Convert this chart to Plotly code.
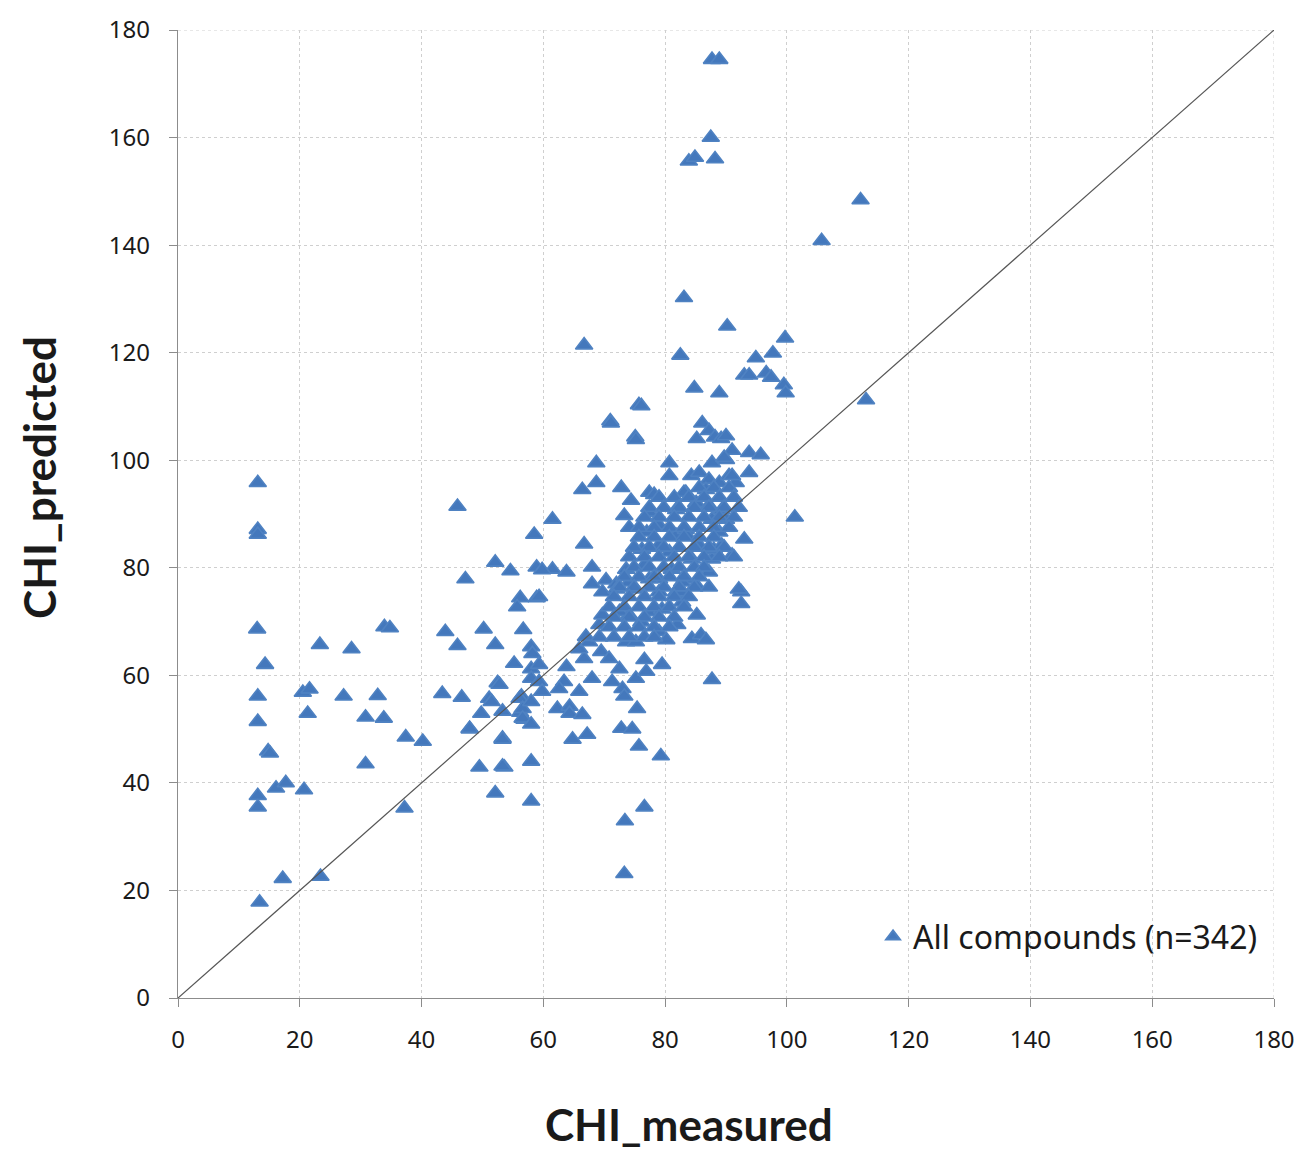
import plotly.graph_objects as go

# ---- data (CHI_measured, CHI_predicted) ----
high_outliers = [
    [87.7, 174.5], [88.9, 174.5], [87.5, 160.0], [83.9, 155.6], [84.9, 156.3], [88.2, 156.0],
    [112.1, 148.4], [105.7, 140.8], [83.1, 130.2], [90.2, 124.9], [99.7, 122.7], [82.5, 119.5],
    [94.9, 119.0], [66.7, 121.4], [97.7, 119.9], [93.0, 115.8], [93.8, 115.8], [96.6, 116.2],
    [97.4, 115.4], [84.8, 113.4], [88.9, 112.5], [99.5, 114.0], [99.8, 112.5], [113.0, 111.2],
    [71.0, 107.3], [75.7, 110.3], [75.1, 104.3], [86.1, 106.9], [87.2, 105.5], [85.2, 104.0],
    [88.2, 104.3], [89.2, 104.0], [90.0, 104.5], [93.8, 101.4], [95.7, 101.0], [101.3, 89.4],
]

left_group = [
    [13.1, 95.8], [13.1, 87.1], [13.1, 86.2], [45.9, 91.4], [13.0, 68.6], [14.3, 62.0],
    [13.1, 56.1], [13.1, 51.4], [14.8, 45.9], [15.1, 45.5], [13.1, 37.6], [13.1, 35.5],
    [16.1, 39.0], [17.7, 40.0], [13.4, 17.8], [17.2, 22.2], [23.4, 22.6], [20.5, 56.8],
    [21.6, 57.4], [21.3, 52.9], [20.7, 38.7], [23.3, 65.7], [28.5, 64.9], [27.2, 56.1],
    [30.8, 52.2], [32.8, 56.2], [33.8, 52.0], [30.8, 43.5], [33.9, 69.0], [34.8, 68.8],
    [37.4, 48.5], [40.2, 47.7], [37.2, 35.3], [43.9, 68.1], [45.9, 65.5], [43.4, 56.6],
    [46.6, 55.9], [47.2, 77.9], [47.9, 50.0], [49.8, 52.9], [50.2, 68.6], [49.5, 42.9],
    [52.1, 81.0], [52.1, 65.7], [52.5, 58.6], [51.1, 55.7], [52.1, 38.1], [53.3, 48.3],
    [53.6, 42.9], [54.6, 79.4], [55.2, 62.2], [56.2, 74.4], [55.7, 72.7], [56.7, 68.5],
    [56.4, 56.1], [56.2, 53.1], [56.9, 51.8], [58.9, 74.4], [58.9, 80.1], [58.5, 86.2],
    [52.8, 58.3], [51.5, 55.1], [56.1, 55.7], [56.6, 53.8], [58.0, 55.1], [56.6, 52.0],
    [58.0, 50.9], [53.3, 53.3], [47.9, 50.1], [53.3, 48.1], [53.3, 43.1], [58.0, 44.0],
    [58.0, 36.6],
]

middle_group = [
    [59.3, 74.6], [61.5, 89.0], [66.7, 84.4], [68.7, 99.5], [68.7, 95.8], [66.4, 94.5],
    [71.1, 106.9], [75.2, 103.8], [76.1, 110.1], [72.8, 94.9], [74.4, 92.5], [77.4, 94.0],
    [78.2, 93.6], [80.7, 99.5], [80.7, 97.1], [73.3, 89.7], [74.1, 87.5], [77.4, 90.3],
    [77.0, 86.6], [79.0, 87.9], [81.8, 90.8], [83.4, 94.0], [63.8, 79.2], [61.5, 79.7],
    [59.8, 79.6], [68.0, 80.1], [73.6, 79.7], [70.3, 77.7], [68.0, 77.0], [72.0, 77.0],
    [74.1, 77.3], [76.2, 83.4], [76.6, 80.5], [79.0, 84.2], [80.7, 82.9], [81.8, 86.0],
    [83.4, 87.1], [79.0, 77.9], [81.1, 79.7], [83.4, 77.9], [77.4, 77.9],
    [58.0, 65.3], [58.2, 64.0], [58.0, 61.2], [59.3, 62.0], [58.0, 59.4], [59.3, 58.8],
    [59.8, 57.0], [63.8, 61.6], [63.4, 58.8], [62.6, 57.5], [65.9, 57.0], [68.0, 59.4],
    [62.3, 53.8], [64.3, 54.2], [64.3, 52.9], [66.4, 52.7], [64.8, 48.1], [67.2, 49.0],
    [71.3, 58.8], [73.0, 57.5], [73.3, 56.1], [72.8, 50.1], [74.6, 50.0], [75.4, 53.8],
    [75.7, 46.8], [79.3, 45.0], [75.2, 59.4], [76.9, 60.7], [72.5, 61.2], [79.5, 62.0],
    [76.6, 62.9], [66.7, 63.1], [69.5, 64.4], [70.8, 63.1], [65.9, 64.9], [67.5, 66.2],
    [73.6, 66.2], [75.2, 66.2], [79.0, 68.1], [82.0, 69.4], [80.2, 66.6], [76.1, 69.9],
    [74.1, 71.2], [69.2, 69.4], [69.7, 71.2], [72.5, 71.8], [77.7, 71.8], [79.5, 72.3],
    [67.0, 67.2], [69.7, 75.5], [72.0, 76.0], [75.2, 76.0], [79.0, 75.5], [81.8, 75.5],
    [82.8, 73.6], [73.4, 32.9], [73.3, 23.1], [76.6, 35.5],
]

right_group = [
    [92.5, 75.5], [92.5, 73.3], [85.1, 76.8], [82.6, 75.5], [85.2, 71.2], [84.4, 66.8],
    [85.9, 67.5], [86.7, 66.6], [87.7, 59.2], [91.0, 101.8], [90.0, 100.1], [87.7, 99.5],
    [84.3, 97.1], [85.6, 97.7], [87.2, 96.4], [88.9, 95.8], [90.5, 97.1], [91.6, 95.8],
    [83.1, 94.0], [85.1, 92.1], [87.2, 91.6], [89.3, 90.8], [90.0, 89.0], [93.0, 85.3],
    [91.0, 82.3], [87.7, 81.6], [87.2, 79.2], [82.8, 77.3], [92.1, 76.0], [83.6, 86.0],
    [85.6, 84.2], [84.4, 81.6], [88.9, 86.6], [87.7, 89.0], [93.8, 97.7], [91.0, 97.1],
    [86.7, 94.5], [89.7, 100.5], [88.0, 83.4], [89.3, 84.2], [91.3, 82.0],
]

dense_core = [
    [85.6, 94.9], [88.0, 94.9], [90.5, 94.9],
    [79.0, 93.1], [81.5, 93.1], [83.9, 93.1], [86.4, 93.1], [88.9, 93.1], [91.3, 93.1],
    [77.4, 91.2], [79.8, 91.2], [82.3, 91.2], [84.8, 91.2], [87.2, 91.2], [89.7, 91.2], [92.1, 91.2],
    [76.6, 89.4], [79.0, 89.4], [81.5, 89.4], [83.9, 89.4], [86.4, 89.4], [88.9, 89.4], [91.3, 89.4],
    [75.7, 87.5], [78.2, 87.5], [80.7, 87.5], [83.1, 87.5], [85.6, 87.5], [88.0, 87.5], [90.5, 87.5],
    [75.7, 85.7], [78.2, 85.7], [80.7, 85.7], [83.1, 85.7], [85.6, 85.7], [88.0, 85.7],
    [74.9, 83.8], [77.4, 83.8], [79.8, 83.8], [82.3, 83.8], [84.8, 83.8], [87.2, 83.8], [89.7, 83.8],
    [74.1, 82.0], [76.6, 82.0], [79.0, 82.0], [81.5, 82.0], [83.9, 82.0], [86.4, 82.0], [88.9, 82.0],
    [74.9, 80.1], [77.4, 80.1], [79.8, 80.1], [82.3, 80.1], [84.8, 80.1], [86.4, 80.1],
    [73.3, 78.3], [75.7, 78.3], [78.2, 78.3], [80.7, 78.3], [83.1, 78.3], [85.6, 78.3],
    [72.5, 76.4], [74.9, 76.4], [77.4, 76.4], [79.8, 76.4], [82.3, 76.4], [84.8, 76.4], [87.2, 76.4],
    [71.6, 74.6], [74.1, 74.6], [76.6, 74.6], [79.0, 74.6], [81.5, 74.6], [83.9, 74.6],
    [70.8, 72.7], [73.3, 72.7], [75.7, 72.7], [78.2, 72.7], [80.7, 72.7], [83.1, 72.7],
    [71.6, 70.8], [74.1, 70.8], [76.6, 70.8], [79.0, 70.8], [81.5, 70.8],
    [70.8, 69.0], [73.3, 69.0], [75.7, 69.0], [78.2, 69.0], [80.7, 69.0],
    [69.2, 67.1], [71.6, 67.1], [74.1, 67.1], [76.6, 67.1], [78.2, 67.1],
]

groups = [high_outliers, left_group, middle_group, right_group, dense_core]
chi_measured = [p[0] for g in groups for p in g]
chi_predicted = [p[1] for g in groups for p in g]

identity_line = [0, 180]
x_ticks = [0, 20, 40, 60, 80, 100, 120, 140, 160, 180]
y_ticks = [0, 20, 40, 60, 80, 100, 120, 140, 160, 180]
axis_max = 180

GRID = "#CFCFCF"

fig = go.Figure()
fig.add_trace(go.Scatter(
    x=chi_measured, y=chi_predicted, mode="markers",
    name="All compounds (n=342)",
    marker=dict(symbol="triangle-up", size=15, color="#4478BC",
                line=dict(color="#4F82C2", width=1.6)),
))
fig.add_trace(go.Scatter(
    x=identity_line, y=identity_line, mode="lines",
    line=dict(color="#555555", width=1.2), showlegend=False, hoverinfo="skip",
))

axis_common = dict(
    range=[0, axis_max], showgrid=True, gridcolor=GRID,
    griddash="dot", gridwidth=1, zeroline=False, showline=True,
    linecolor="#8C8C8C", linewidth=1.3, ticks="outside", ticklen=8,
    tickcolor="#8C8C8C", tickfont=dict(family="Noto Sans", size=24, color="#1a1a1a"),
)

pw = 1307 - 178 - 31
ph = 1150 - 25 - 152

def px_to_paper(px, py):
    return (px - 178) / pw, (1150 - 152 - py) / ph

xt_x, xt_y = px_to_paper(690, 1125)
yt_x, yt_y = px_to_paper(38, 475)

fig.update_layout(
    width=1307, height=1150,
    margin=dict(l=178, r=31, t=25, b=152),
    paper_bgcolor="white", plot_bgcolor="white",
    xaxis=dict(**axis_common, tickvals=x_ticks, ticklabelstandoff=12),
    yaxis=dict(**axis_common, tickvals=y_ticks, ticklabelstandoff=14),
    showlegend=True,
    legend=dict(x=0.99, y=0.035, xanchor="right", yanchor="bottom",
                bgcolor="rgba(0,0,0,0)", font=dict(family="Noto Sans", size=32, color="#1a1a1a"),
                itemsizing="constant", itemwidth=30),
    shapes=[
        dict(type="line", xref="x", yref="y", x0=0, x1=axis_max, y0=axis_max, y1=axis_max,
             line=dict(color=GRID, width=1, dash="dot"), layer="below"),
        dict(type="line", xref="x", yref="y", x0=axis_max, x1=axis_max, y0=0, y1=axis_max,
             line=dict(color=GRID, width=1, dash="dot"), layer="below"),
    ],
    annotations=[
        dict(text="<b>CHI_measured</b>", x=xt_x, y=xt_y, xref="paper", yref="paper",
             xanchor="center", yanchor="middle",
             showarrow=False, font=dict(family="Lato", size=44, color="#1a1a1a")),
        dict(text="<b>CHI_predicted</b>", x=yt_x, y=yt_y, xref="paper", yref="paper",
             xanchor="center", yanchor="middle",
             showarrow=False, textangle=-90, font=dict(family="Lato", size=44, color="#1a1a1a")),
    ],
)

fig.write_html("out.html")
